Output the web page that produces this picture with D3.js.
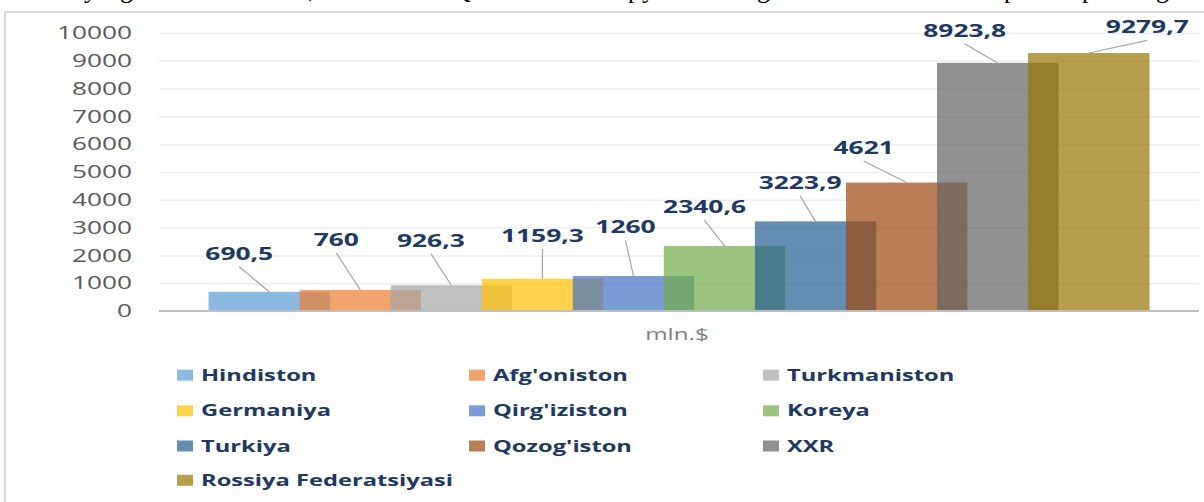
<!DOCTYPE html>
<html>
<head>
<meta charset="utf-8">
<script src="https://cdn.jsdelivr.net/npm/d3@7"></script>
<style>
  html, body { margin: 0; padding: 0; background: #fff; }
  svg { display: block; }
</style>
</head>
<body>
<svg id="chart" width="1204" height="502"></svg>
<script>
// ---- data ----
const categories = ["mln.$"];
const series = ["Hindiston", "Afg'oniston", "Turkmaniston", "Germaniya", "Qirg'iziston",
                "Koreya", "Turkiya", "Qozog'iston", "XXR", "Rossiya Federatsiyasi"];
const values = [690.5, 760, 926.3, 1159.3, 1260, 2340.6, 3223.9, 4621, 8923.8, 9279.7];
const yTicks = [0, 1000, 2000, 3000, 4000, 5000, 6000, 7000, 8000, 9000, 10000];

// ---- styles / layout ----
const colors = ["#5B9BD5", "#ED7D31", "#A5A5A5", "#FFC000", "#4472C4",
                "#70AD47", "#255E91", "#9E480E", "#636363", "#997300"];
const barOpacity = 0.7;
const SX = 1.47; // horizontal stretch of the source picture
const fontFam = "'Open Sans', 'Liberation Sans', sans-serif";
// manual label placement relative to bar top-center: [dx, dy(baseline)]
const labelOffsets = [[-30, -32], [-24, -44], [-20.5, -38.6], [0, -36.8], [-8, -42.7],
                      [-20, -32.6], [-15.5, -32.4], [-43, -28.5], [-33, -26.2], [58.5, -19.7]];

const svg = d3.select("#chart");
const plot = { left: 159, right: 1199, top: 33, bottom: 311 };

// decorative clipped document text above the chart (only descenders visible)
const topGlyphs = ["y", "g", ",", "Q", "p", "y", "g", "p", "p", "g"];
const topX = [84, 120, 308, 452, 628, 642, 757, 1004, 1082, 1156];
svg.append("text")
  .attr("x", topX.join(" "))
  .attr("y", -2)
  .style("font-family", "'Liberation Serif', serif")
  .style("font-size", "26px")
  .attr("fill", "#000")
  .text(topGlyphs.join(""));

// chart frame
svg.append("rect")
  .attr("x", 5).attr("y", 12)
  .attr("width", 1220).attr("height", 520)
  .attr("fill", "none")
  .attr("stroke", "#d9d9d9")
  .attr("stroke-width", 2);

// scales
const x0 = d3.scaleBand().domain(categories)
  .range([plot.left, plot.right]).paddingInner(0).paddingOuter(0.0526);
const y = d3.scaleLinear().domain([0, 10000]).range([plot.bottom, plot.top]);
const overlap = 0.25;
const bw = x0.bandwidth();
const barW = bw / (1 + (series.length - 1) * (1 - overlap));
const x1 = d3.scalePoint().domain(series).range([0, bw - barW]);

// gridlines
const grid = svg.append("g")
  .attr("transform", `translate(${plot.left},0)`)
  .call(d3.axisLeft(y).tickValues(yTicks).tickSize(-(plot.right - plot.left)).tickFormat(""));
grid.select(".domain").remove();
grid.selectAll("line").attr("stroke", "#eeeeee").attr("stroke-width", 1.5);

// y axis labels
const yAxis = svg.append("g")
  .attr("transform", "translate(132,0)")
  .call(d3.axisLeft(y).tickValues(yTicks).tickSize(0).tickPadding(0).tickFormat(d3.format("d")));
yAxis.select(".domain").remove();
yAxis.selectAll("text")
  .attr("x", 0)
  .attr("transform", `scale(${SX * 1.02},1)`)
  .attr("text-anchor", "end")
  .attr("fill", "#595959")
  .style("font-family", fontFam)
  .style("font-size", "17.5px");

// bars
const g = svg.append("g");
const cat = categories[0];
g.selectAll("rect.bar")
  .data(series)
  .join("rect")
  .attr("class", "bar")
  .attr("x", (d) => x0(cat) + x1(d))
  .attr("y", (d, i) => y(values[i]))
  .attr("width", barW)
  .attr("height", (d, i) => y(0) - y(values[i]))
  .attr("fill", (d, i) => colors[i])
  .attr("fill-opacity", barOpacity);

// x axis line
svg.append("line")
  .attr("x1", plot.left).attr("x2", plot.right)
  .attr("y1", y(0)).attr("y2", y(0))
  .attr("stroke", "#bfbfbf").attr("stroke-width", 2);

// category label
svg.append("text")
  .attr("transform", `translate(${x0(cat) + bw / 2 - 2},340) scale(${SX},1)`)
  .attr("text-anchor", "middle")
  .attr("fill", "#7f7f7f")
  .style("font-family", fontFam)
  .style("font-size", "16.5px")
  .text(cat);

// data labels with leader lines
const fmt = (v) => String(v).replace(".", ",");
series.forEach((s, i) => {
  const cx = x0(cat) + x1(s) + barW / 2;
  const top = y(values[i]);
  const lx = cx + labelOffsets[i][0];
  const ly = top + labelOffsets[i][1];
  svg.append("line")
    .attr("x1", lx).attr("y1", ly + 7)
    .attr("x2", cx).attr("y2", top)
    .attr("stroke", "#a6a6a6").attr("stroke-width", 1.2);
  svg.append("text")
    .attr("transform", `translate(${lx},${ly}) scale(${SX * 0.97},1)`)
    .attr("text-anchor", "middle")
    .attr("fill", "#203864")
    .style("font-family", fontFam)
    .style("font-weight", "700")
    .style("font-size", "18.5px")
    .text(fmt(values[i]));
});

// legend
const legend = svg.append("g");
const colX = [177, 469, 763];
const rowY = [380.7, 416.3, 451.5, 485.8];
series.forEach((s, i) => {
  const cx = colX[i % 3], by = rowY[Math.floor(i / 3)];
  legend.append("rect")
    .attr("x", cx).attr("y", by - 11)
    .attr("width", 16).attr("height", 11)
    .attr("fill", colors[i]).attr("fill-opacity", barOpacity);
  legend.append("text")
    .attr("transform", `translate(${cx + 24},${by}) scale(${SX * 1.02},1)`)
    .attr("fill", "#203864")
    .style("font-family", fontFam)
    .style("font-weight", "700")
    .style("font-size", "15.8px")
    .text(s);
});
</script>
</body>
</html>
